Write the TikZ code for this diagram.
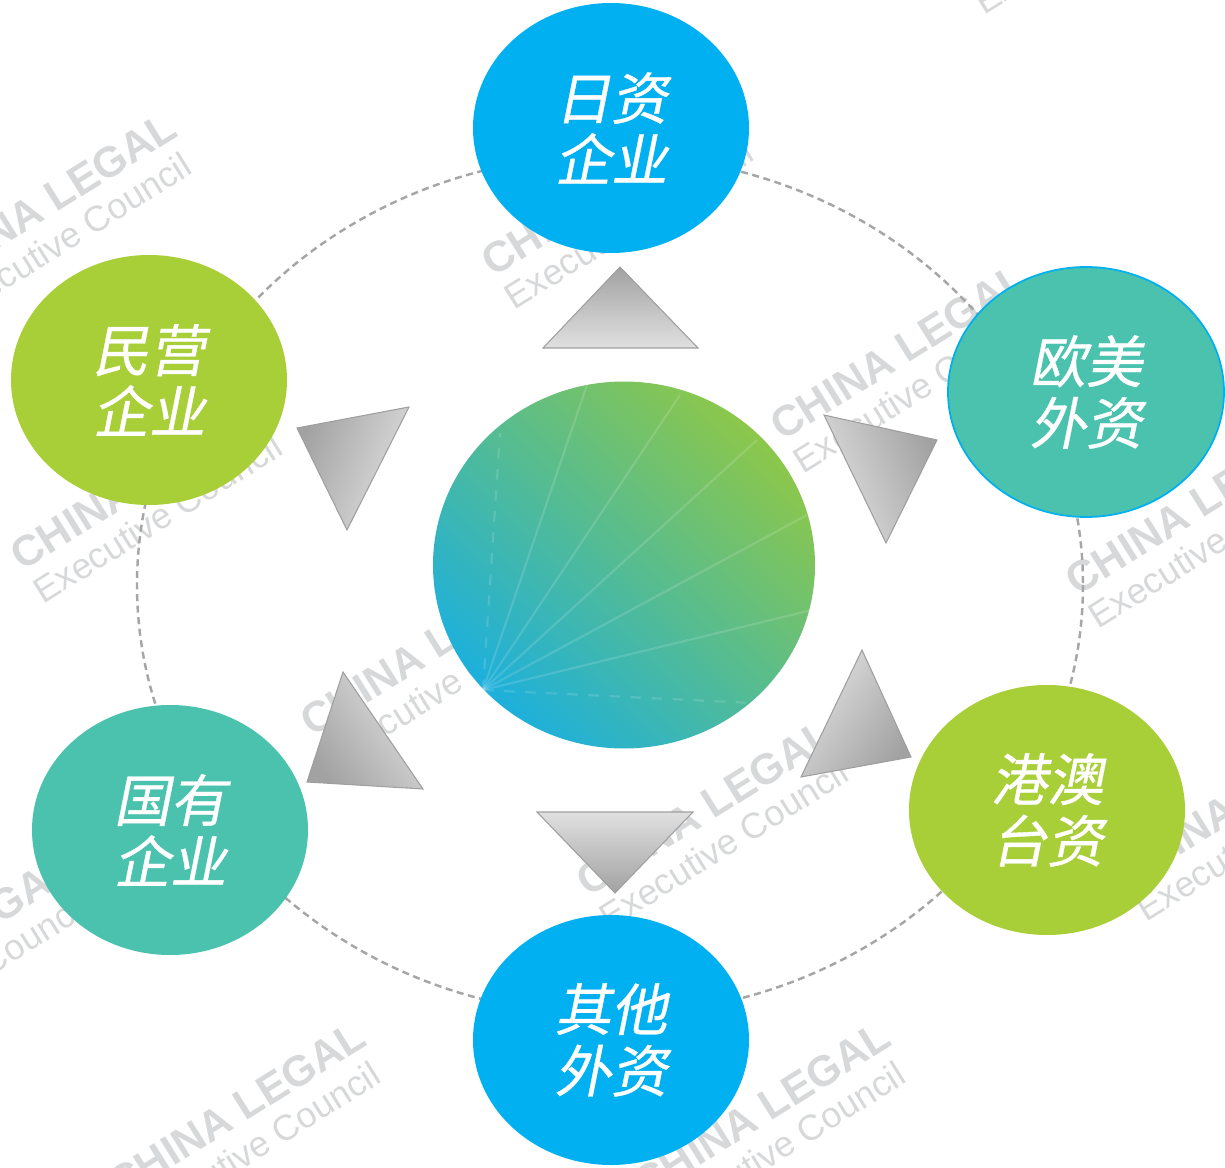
\documentclass[tikz,border=0pt]{standalone}
\usepackage{fontspec}
\setmainfont{Liberation Sans}
\newfontfamily\cjk[FakeSlant=0.2,FakeBold=0.6]{Noto Sans CJK SC}
\usetikzlibrary{shapes.geometric}

\definecolor{jpblue}{HTML}{00B0F0}
\definecolor{euteal}{HTML}{4BC2AE}
\definecolor{hkgreen}{HTML}{A8CE38}
\definecolor{coreblue}{HTML}{1DB0DC}
\definecolor{coregreen}{HTML}{8CC74B}
\definecolor{wmgray}{HTML}{D6D8D9}
\definecolor{ringgray}{HTML}{A6A6A6}
\definecolor{tridark}{HTML}{A2A2A2}
\definecolor{trilight}{HTML}{E0E0E0}

% watermark: name, x, y (pixel grid)
\newcommand{\wmark}[3]{%
\node[wmbig] (#1a) at (#2,#3) {CHINA LEGAL};
\node[wmsmall] (#1b) at ([shift={(21,33)}]#2,#3) {Executive Council};
}

\begin{document}
\begin{tikzpicture}[
x=0.1mm, y=-0.1mm,
wmbig/.style={
text=wmgray,
rotate=32,
anchor=base west,
inner sep=0pt,
font=\bfseries\fontsize{12.2}{14}\selectfont,
},
wmsmall/.style={
text=wmgray,
rotate=32,
anchor=base west,
inner sep=0pt,
font=\fontsize{10.2}{12}\selectfont,
},
firm/.style={
ellipse,
minimum width=2.76cm,
minimum height=2.5cm,
inner sep=0pt,
align=center,
text=white,
font=\cjk\fontsize{16}{17.5}\selectfont,
},
ringline/.style={
draw=ringgray,
line width=0.7pt,
dash pattern=on 2pt off 1.3pt,
},
tri/.style={
draw=gray!75,
line width=0.3pt,
shading=axis,
top color=tridark,
bottom color=trilight,
},
ray/.style={
white,
opacity=0.14,
line width=0.6pt,
},
]
\useasboundingbox (0,0) rectangle (1225,1168);
\clip (0,0) rectangle (1225,1168);

\wmark{wj}{-69}{291}
\wmark{wi}{493}{278}
\wmark{wl}{963}{-17}
\wmark{wh}{782}{442}
\wmark{wa}{22}{572}
\wmark{wf}{1077}{597}
\wmark{we}{312}{738}
\wmark{wb}{588}{898}
\wmark{wg}{1125}{890}
\wmark{wk}{-172}{1032}
\wmark{wc}{120}{1200}
\wmark{wd}{645}{1200}

\draw[ringline] (610,585) ellipse [x radius=473, y radius=430];

\shade[tri, shading angle=0] (620,267) -- (698,348) -- (543,348) -- cycle;
\shade[tri, shading angle=-68] (824,415) -- (937,440) -- (886,543) -- cycle;
\shade[tri, shading angle=-125] (862,650) -- (911,757) -- (801,777) -- cycle;
\shade[tri, shading angle=180] (537,812) -- (693,812) -- (615,893) -- cycle;
\shade[tri, shading angle=125] (343,672) -- (423,789) -- (307,782) -- cycle;
\shade[tri, shading angle=68] (297,428) -- (409,407) -- (347,530) -- cycle;

\node[ellipse, minimum width=3.82cm, minimum height=3.67cm, inner sep=0pt,
shading=axis, top color=coregreen, bottom color=coreblue, shading angle=-45] (core) at (624,565) {};
\begin{scope}
\clip (624,565) ellipse [x radius=191, y radius=184];
\foreach \ex/\ey in {587/385, 680/395, 757/440, 807/515, 812/610}
\draw[ray] (483,690) -- (\ex,\ey);
\draw[ray, dashed] (483,690) -- (500,433);
\draw[ray, dashed] (483,690) -- (753,703);
\end{scope}

\node[firm, fill=jpblue] (jp) at (611,128) {日资\\企业};
\node[firm, fill=euteal, draw=jpblue, line width=0.5pt] (eu) at (1086,392) {欧美\\外资};
\node[firm, fill=hkgreen] (hk) at (1047,810) {港澳\\台资};
\node[firm, fill=jpblue] (other) at (611,1040) {其他\\外资};
\node[firm, fill=euteal] (state) at (170,830) {国有\\企业};
\node[firm, fill=hkgreen] (private) at (149,380) {民营\\企业};

\end{tikzpicture}
\end{document}
